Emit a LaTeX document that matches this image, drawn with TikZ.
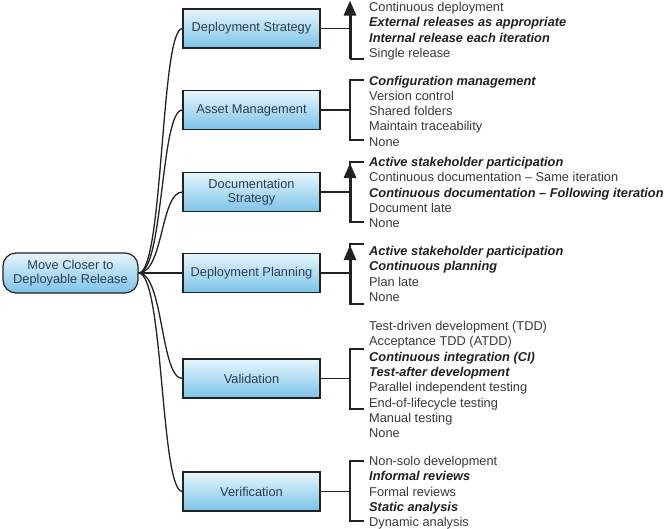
\documentclass[tikz,border=0pt]{standalone}
\usepackage{fontspec}
\setmainfont{Liberation Sans}
\usetikzlibrary{arrows.meta}
\definecolor{boxtop}{HTML}{E6F6FC}
\definecolor{boxbot}{HTML}{7CC3E8}
\definecolor{boxtext}{HTML}{2E3D4E}
\definecolor{itemtext}{HTML}{383838}
\definecolor{bitemtext}{HTML}{202020}
\definecolor{linec}{HTML}{222222}
\begin{document}
\begin{tikzpicture}[x=1pt,y=-1pt,
  catbox/.style={draw=linec, line width=1.2pt, top color=boxtop, bottom color=boxbot,
    minimum width=137pt, minimum height=39pt, text=boxtext,
    font=\fontsize{12.8}{14.5}\selectfont, align=center, inner sep=0pt},
  rootbox/.style={catbox, rounded corners=13pt, minimum width=135pt, minimum height=40pt},
  item/.style={anchor=base west, inner sep=0pt, text=itemtext, font=\fontsize{12.8}{14}\selectfont},
  bitem/.style={item, text=bitemtext, font=\fontsize{12.8}{14}\selectfont\bfseries\itshape},
  conn/.style={draw=linec, line width=1.3pt},
  prog/.style={draw=linec, line width=3pt, -{Triangle[width=12pt,length=15pt]}},
]
\useasboundingbox (0,0) rectangle (664,528);

% root and category boxes
\node[rootbox] (root) at (70.5,273) {Move Closer to\\Deployable Release};
\node[catbox] (ds)   at (251.5,28.5)  {Deployment Strategy};
\node[catbox] (am)   at (251.5,110)   {Asset Management};
\node[catbox] (doc)  at (251.5,192)   {Documentation\\Strategy};
\node[catbox] (dp)   at (251.5,273)   {Deployment Planning};
\node[catbox] (val)  at (251.5,378.5) {Validation};
\node[catbox] (ver)  at (251.5,491.5) {Verification};

% connectors from root
\foreach \n in {ds,am,doc,val,ver}{
  \draw[conn] (root.east) .. controls +(25,0) and +(-22,0) .. (\n.west);
}
\draw[conn] (root.east) -- (dp.west);

% junction coordinates
\coordinate (dsj)  at (350,28.5);
\coordinate (amj)  at (350,110);
\coordinate (docj) at (350,192);
\coordinate (dpj)  at (350,273);
\coordinate (valj) at (350,378.5);
\coordinate (verj) at (350,491.5);
\foreach \n in {ds,am,doc,dp,val,ver}{
  \draw[conn] (\n.east) -- (\n j);
}

% brackets
\coordinate (dsb) at (350,59);   \coordinate (dst) at (350,0.5);
\draw[conn] (dsb) -- +(14,0);
\draw[prog] (dsb) -- (dst);

\coordinate (amt) at (350,80);   \coordinate (amb) at (350,140);
\draw[conn] ([xshift=14pt]amt) -- (amt) -- (amb) -- ([xshift=14pt]amb);

\coordinate (doct) at (350,162); \coordinate (docb) at (350,222);
\draw[conn] ([xshift=14pt]doct) -- (doct) -- (docb) -- ([xshift=14pt]docb);
\draw[prog] (docb) -- ([yshift=-1pt]doct);

\coordinate (dpt) at (350,244);  \coordinate (dpb) at (350,304);
\draw[conn] ([xshift=14pt]dpt) -- (dpt) -- (dpb) -- ([xshift=14pt]dpb);
\draw[prog] (dpb) -- ([yshift=-1pt]dpt);

\coordinate (valt) at (350,349); \coordinate (valb) at (350,409);
\draw[conn] ([xshift=14pt]valt) -- (valt) -- (valb) -- ([xshift=14pt]valb);

\coordinate (vert) at (350,461); \coordinate (verb) at (350,521);
\draw[conn] ([xshift=14pt]vert) -- (vert) -- (verb) -- ([xshift=14pt]verb);

% items (baseline = visual centre + 4.5)
\node[item]  (ds1) at (369,11.5) {Continuous deployment};
\node[bitem] (ds2) at (369,26.8) {External releases as appropriate};
\node[bitem] (ds3) at (369,42)   {Internal release each iteration};
\node[item]  (ds4) at (369,57.3) {Single release};

\node[bitem] (am1) at (369,85)   {Configuration management};
\node[item]  (am2) at (369,100.3){Version control};
\node[item]  (am3) at (369,115.6){Shared folders};
\node[item]  (am4) at (369,130.9){Maintain traceability};
\node[item]  (am5) at (369,146.2){None};

\node[bitem] (doc1) at (369,166.5){Active stakeholder participation};
\node[item]  (doc2) at (369,181.8){Continuous documentation -- Same iteration};
\node[bitem] (doc3) at (369,197.1){Continuous documentation -- Following iteration};
\node[item]  (doc4) at (369,212.4){Document late};
\node[item]  (doc5) at (369,227.7){None};

\node[bitem] (dp1) at (369,255.5){Active stakeholder participation};
\node[bitem] (dp2) at (369,270.8){Continuous planning};
\node[item]  (dp3) at (369,286.1){Plan late};
\node[item]  (dp4) at (369,301.4){None};

\node[item]  (val1) at (369,330.5){Test-driven development (TDD)};
\node[item]  (val2) at (369,345.8){Acceptance TDD (ATDD)};
\node[bitem] (val3) at (369,361.1){Continuous integration (CI)};
\node[bitem] (val4) at (369,376.4){Test-after development};
\node[item]  (val5) at (369,391.7){Parallel independent testing};
\node[item]  (val6) at (369,407)  {End-of-lifecycle testing};
\node[item]  (val7) at (369,422.3){Manual testing};
\node[item]  (val8) at (369,437.6){None};

\node[item]  (ver1) at (369,465.5){Non-solo development};
\node[bitem] (ver2) at (369,480.8){Informal reviews};
\node[item]  (ver3) at (369,496.1){Formal reviews};
\node[bitem] (ver4) at (369,511.4){Static analysis};
\node[item]  (ver5) at (369,526.7){Dynamic analysis};
\end{tikzpicture}
\end{document}
